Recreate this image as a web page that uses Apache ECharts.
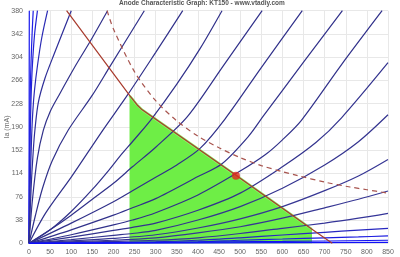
<!DOCTYPE html>
<html>
<head>
<meta charset="utf-8">
<script src="https://cdn.jsdelivr.net/npm/echarts@6/dist/echarts.min.js"></script>
<style>
  html, body { margin: 0; padding: 0; background: #fff; }
  #chart { width: 400px; height: 257px; }
</style>
</head>
<body>
<div id="chart"></div>
<script>
// anode curves, one per grid step, [Va, Ia] (left = most positive grid)
var curve01 = [[0, 0], [0.3, 150], [0.5, 280], [0.7, 380]];
var curve02 = [[0, 0], [0.8, 100], [1.8, 190], [3, 250], [5, 300], [7.5, 345], [10, 380]];
var curve03 = [[0, 0], [1.5, 100], [3, 180], [5, 240], [8, 290], [13, 340], [20, 380]];
var curve04 = [[0, 0], [3, 100], [6, 170], [9, 215], [13, 250], [20, 290], [30, 335], [44, 380]];
var curve05 = [[0, 0], [5, 90], [10, 150], [14, 185], [22, 230], [38, 270], [60, 310], [100, 380]];
var curve06 = [[0, 0], [8, 70], [20, 140], [34, 185], [50, 215], [71, 242], [110, 290], [145, 330], [186, 380]];
var curve07 = [[0, 0], [15, 45], [32, 90], [55, 135], [93, 185], [150, 242], [190, 287], [273, 380]];
var curve08 = [[0, 0], [40, 50], [100, 108], [175, 185], [233, 242], [300, 312], [364, 380]];
var curve09 = [[0, 0], [50, 22], [100, 52], [150, 88], [192, 122], [215, 142], [250, 170], [290, 203], [350, 260], [405, 318], [457, 380]];
var curve10 = [[0, 0], [50, 22], [100, 46], [150, 72], [200, 98], [245, 125], [300, 157], [375, 207], [460, 290], [552, 380]];
var curve11 = [[0, 0], [100, 33], [200, 68], [245, 86], [300, 108], [350, 128], [405, 155], [464, 203], [550, 287], [647, 380]];
var curve12 = [[0, 0], [100, 22], [200, 46], [245, 58], [300, 73], [400, 109], [457, 130], [520, 175], [555, 208], [650, 296], [742, 380]];
var curve13 = [[0, 0], [100, 14], [200, 30], [245, 38], [300, 50], [400, 79], [500, 118], [560, 145], [600, 169], [645, 201], [740, 292], [836, 380]];
var curve14 = [[0, 0], [100, 10], [200, 21], [245, 26], [300, 33], [400, 54], [500, 82], [600, 125], [680, 165], [740, 205], [850, 295]];
var curve15 = [[0, 0], [100, 6], [200, 13], [245, 16], [300, 21], [400, 38], [500, 60], [600, 90], [700, 128], [780, 166], [850, 210]];
var curve16 = [[0, 0], [100, 4], [200, 8], [300, 14], [400, 25], [500, 40], [600, 60], [700, 86], [780, 110], [850, 137]];
var curve17 = [[0, 0], [200, 5], [300, 9], [400, 17], [500, 27], [600, 41], [700, 58], [780, 72], [850, 85.5]];
var curve18 = [[0, 0], [200, 3], [300, 5], [400, 9], [500, 16], [600, 24.5], [700, 33], [780, 41], [850, 49]];
var curve19 = [[0, 0], [300, 2.5], [400, 5], [500, 9], [600, 13.6], [700, 18], [780, 21.5], [850, 24.5]];
var curve20 = [[0, 0], [400, 2.5], [500, 5], [600, 7], [700, 9], [780, 10.5], [850, 12]];
var curve21 = [[0, 0], [600, 3], [850, 5]];
var curve22 = [[0, 0], [850, 1.5]];

// load line (class AB, two slopes) and the 70W dissipation limit
var loadLine = [[89, 380], [239, 241], [248, 233], [256, 226], [268, 218], [490, 111], [670, 23], [718, 0]];
var greenZone = [[238, 241], [248, 233], [256, 226], [268, 218], [490, 111], [670, 23]];
var maxDiss = [[185, 380], [200, 350], [250, 280], [300, 233], [350, 200], [400, 175], [450, 156], [500, 140],
  [550, 127], [600, 117], [634, 111], [700, 100], [760, 92], [800, 87.5], [850, 82]];
var opPoint = [[490, 110.5]];

var curves = [curve01, curve02, curve03, curve04, curve05, curve06, curve07, curve08, curve09, curve10, curve11,
  curve12, curve13, curve14, curve15, curve16, curve17, curve18, curve19, curve20, curve21, curve22];
var curveColors = ['#1a1af0', '#1e1ee6', '#2323d4', '#2a2ab4', '#2e2e98', '#30308a', '#30308a', '#30308a',
  '#30308a', '#30308a', '#30308a', '#30308a', '#30308a', '#32328e', '#343490', '#363694', '#363694', '#343498',
  '#2828c0', '#1c1ce0', '#1414f0', '#1010f8'];

var chart = echarts.init(document.getElementById('chart'));

var series = [];
series.push({
  type: 'line',
  data: greenZone,
  symbol: 'none',
  z: 1,
  lineStyle: { color: '#8ff06c', width: 2.5 },
  areaStyle: { color: '#6eee46', opacity: 1 }
});
for (var i = 0; i < curves.length; i++) {
  series.push({
    type: 'line',
    data: curves[i],
    symbol: 'none',
    smooth: 0.3,
    z: 2,
    lineStyle: { color: curveColors[i], width: 1.2 }
  });
}
series.push({
  type: 'line',
  data: maxDiss,
  symbol: 'none',
  smooth: 0.3,
  z: 3,
  lineStyle: { color: '#a8544e', width: 1.2, type: [5, 4] }
});
series.push({
  type: 'line',
  data: loadLine,
  symbol: 'none',
  z: 4,
  lineStyle: { color: '#a83a2c', width: 1.2 }
});
series.push({
  type: 'scatter',
  data: opPoint,
  symbolSize: 8,
  z: 5,
  itemStyle: { color: '#e0281e' }
});

var option = {
  animation: false,
  backgroundColor: '#fff',
  title: {
    text: 'Anode Characteristic Graph: KT150 - www.vtadiy.com',
    left: 114,
    top: -5,
    textStyle: { fontSize: 6.5, color: '#555', fontWeight: 'bold', fontFamily: 'Liberation Sans' }
  },
  grid: { left: 29, right: 12, top: 10.7, bottom: 13.7, containLabel: false, outerBoundsMode: 'none' },
  xAxis: {
    type: 'value',
    min: 0,
    max: 850,
    interval: 50,
    axisLine: { show: false },
    axisTick: { show: false },
    axisLabel: { fontSize: 7, color: '#666', margin: 5 },
    splitLine: { lineStyle: { color: '#e8e8e8', width: 1 } }
  },
  yAxis: {
    type: 'value',
    min: 0,
    max: 380,
    interval: 38,
    name: 'Ia (mA)',
    nameLocation: 'middle',
    nameGap: 18,
    nameMoveOverlap: false,
    nameTextStyle: { fontSize: 7, color: '#666' },
    axisLine: { show: false },
    axisTick: { show: false },
    axisLabel: { fontSize: 7, color: '#666', margin: 6 },
    splitLine: { lineStyle: { color: '#e8e8e8', width: 1 } }
  },
  series: series
};

chart.setOption(option);
</script>
</body>
</html>
